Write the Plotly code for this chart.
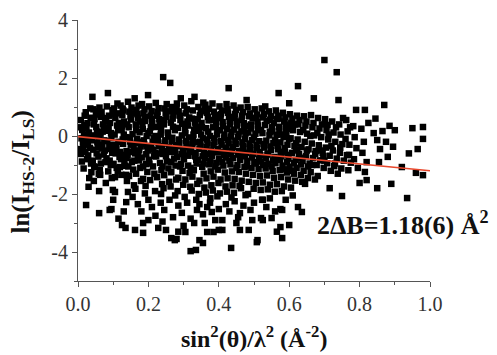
import plotly.graph_objects as go

# ---- data: (sin^2(theta)/lambda^2, ln(I_HS-2/I_LS)) ----
dense_left = [
    (0.008,0.55),(0.012,0.21),(0.010,-0.08),(0.015,-0.35),(0.009,-0.62),(0.018,0.38),(0.014,-0.21),(0.011,-0.88),(0.017,0.05),(0.013,-0.49),(0.019,0.70),(0.016,-1.12),
    (0.022,0.82),(0.027,0.44),(0.031,0.12),(0.025,-0.18),(0.034,-0.41),(0.029,-0.67),(0.037,-0.95),(0.024,0.28),(0.033,-0.03),(0.038,-1.25),(0.021,-0.55),(0.036,0.63),(0.028,-0.30),(0.032,-1.45),
    (0.041,1.35),(0.044,0.92),(0.047,0.58),(0.052,0.31),(0.049,0.02),(0.055,-0.22),(0.043,-0.47),(0.058,-0.71),(0.046,-1.05),(0.051,0.74),(0.057,-0.38),(0.054,0.15),(0.042,-0.85),(0.059,-1.30),(0.048,-1.07),
    (0.061,0.98),(0.066,0.66),(0.071,0.40),(0.064,0.08),(0.075,-0.15),(0.068,-0.43),(0.073,-0.64),(0.078,-0.90),(0.062,-1.18),(0.077,0.51),(0.069,-0.29),(0.074,0.25),(0.063,-1.34),(0.079,-1.62),(0.067,0.83),
    (0.085,1.48),(0.082,1.02),(0.088,0.70),(0.091,0.45),(0.084,0.18),(0.095,-0.06),(0.089,-0.33),(0.097,-0.58),(0.081,-0.77),(0.093,-1.00),(0.086,-1.22),(0.098,0.89),(0.092,-0.45),(0.087,0.30),(0.096,-1.45),(0.099,-1.86),(0.083,-0.18),
    (0.102,0.95),(0.106,0.62),(0.111,0.36),(0.104,0.05),(0.115,-0.20),(0.108,-0.47),(0.118,-0.72),(0.101,-0.96),(0.113,-1.20),(0.117,0.78),(0.109,-0.33),(0.114,0.20),(0.105,-1.42),(0.119,-1.07),(0.107,-0.60),(0.112,1.12),
    (0.121,1.05),(0.126,0.72),(0.131,0.50),(0.124,0.22),(0.135,-0.04),(0.128,-0.27),(0.138,-0.52),(0.122,-0.80),(0.133,-1.03),(0.137,-1.34),(0.129,0.88),(0.134,-0.65),(0.125,0.34),(0.139,-1.55),(0.127,-0.12),(0.132,-0.92),
    (0.142,1.18),(0.146,0.84),(0.151,0.57),(0.144,0.30),(0.155,0.06),(0.148,-0.19),(0.158,-0.42),(0.141,-0.68),(0.153,-0.90),(0.157,-1.16),(0.149,0.68),(0.154,-0.55),(0.145,-1.38),(0.159,-1.70),(0.147,-0.05),(0.152,0.98),
    (0.161,1.30),(0.166,0.90),(0.171,0.62),(0.164,0.40),(0.175,0.13),(0.168,-0.10),(0.178,-0.36),(0.162,-0.60),(0.173,-0.84),(0.177,-1.10),(0.169,0.75),(0.174,-0.50),(0.165,-1.30),(0.179,-1.55),(0.167,-0.24),(0.172,1.05),(0.163,-1.82),
    (0.182,1.10),(0.186,0.78),(0.191,0.52),(0.184,0.24),(0.195,0.00),(0.188,-0.28),(0.198,-0.50),(0.181,-0.74),(0.193,-0.97),(0.197,-1.24),(0.189,0.92),(0.194,-0.63),(0.185,-1.48),(0.199,1.41),(0.187,-0.15),(0.192,-1.72),(0.183,0.38),
]
dense_mid = [
    (0.202,1.02),(0.206,0.70),(0.211,0.45),(0.204,0.16),(0.215,-0.08),(0.208,-0.35),(0.218,-0.58),(0.201,-0.82),(0.213,-1.05),(0.217,-1.30),(0.209,0.86),(0.214,-0.47),(0.205,-1.52),(0.219,-1.90),(0.207,0.30),(0.212,-0.20),
    (0.221,1.14),(0.226,0.83),(0.231,0.58),(0.224,0.31),(0.235,0.05),(0.228,-0.22),(0.238,-0.45),(0.222,-0.70),(0.233,-0.93),(0.237,-1.18),(0.229,0.96),(0.234,-0.60),(0.225,-1.42),(0.239,-1.66),(0.227,-0.10),(0.232,0.42),(0.236,-2.00),
    (0.242,2.03),(0.246,0.95),(0.251,0.66),(0.244,0.40),(0.255,0.12),(0.248,-0.15),(0.258,-0.38),(0.241,-0.62),(0.253,-0.88),(0.257,-1.12),(0.249,0.80),(0.254,-0.52),(0.245,-1.35),(0.259,-1.58),(0.247,-0.26),(0.252,1.10),(0.243,-1.80),
    (0.262,1.83),(0.266,1.00),(0.271,0.72),(0.264,0.46),(0.275,0.20),(0.268,-0.06),(0.278,-0.30),(0.261,-0.55),(0.273,-0.78),(0.277,-1.02),(0.269,0.60),(0.274,-0.42),(0.265,-1.25),(0.279,-1.50),(0.267,-0.18),(0.272,0.86),(0.263,-1.74),(0.276,-2.05),
    (0.281,1.12),(0.286,0.85),(0.291,0.55),(0.284,0.28),(0.295,0.02),(0.288,-0.25),(0.298,-0.48),(0.282,-0.72),(0.293,-0.96),(0.297,-1.20),(0.289,0.70),(0.294,-0.62),(0.285,-1.44),(0.299,-1.68),(0.287,-0.12),(0.292,1.30),(0.283,-1.90),
    (0.302,1.05),(0.306,0.78),(0.311,0.50),(0.304,0.22),(0.315,-0.05),(0.308,-0.30),(0.318,-0.55),(0.301,-0.80),(0.313,-1.02),(0.317,-1.28),(0.309,0.92),(0.314,-0.68),(0.305,-1.50),(0.319,-1.75),(0.307,-0.17),(0.312,0.36),(0.303,-2.10),
    (0.322,1.20),(0.326,0.88),(0.331,1.35),(0.324,0.60),(0.335,0.32),(0.328,0.05),(0.338,-0.22),(0.321,-0.45),(0.333,-0.70),(0.337,-0.95),(0.329,-1.18),(0.334,-0.58),(0.325,-1.40),(0.339,-1.65),(0.327,-0.10),(0.332,0.46),(0.323,-1.88),(0.336,-2.20),
    (0.342,1.00),(0.346,0.72),(0.351,0.45),(0.344,0.18),(0.355,-0.08),(0.348,-0.33),(0.358,-0.58),(0.341,-0.82),(0.353,-1.06),(0.357,-1.30),(0.349,0.85),(0.354,-0.70),(0.345,-1.54),(0.359,-1.78),(0.347,-0.20),(0.352,0.30),(0.343,-2.00),(0.356,1.15),
    (0.362,1.08),(0.366,0.80),(0.371,0.54),(0.364,0.27),(0.375,0.00),(0.368,-0.26),(0.378,-0.50),(0.361,-0.75),(0.373,-0.98),(0.377,-1.22),(0.369,0.66),(0.374,-0.62),(0.365,-1.46),(0.379,-1.70),(0.367,-0.12),(0.372,0.94),(0.363,-1.95),(0.376,-2.15),
    (0.382,1.12),(0.386,0.84),(0.391,0.58),(0.384,0.30),(0.395,0.05),(0.388,-0.20),(0.398,-0.44),(0.381,-0.68),(0.393,-0.92),(0.397,-1.16),(0.389,0.72),(0.394,-0.56),(0.385,-1.40),(0.399,-1.62),(0.387,-0.08),(0.392,0.42),(0.383,-1.88),(0.396,-2.08),
]
dense_right = [
    (0.402,1.02),(0.406,0.75),(0.411,0.48),(0.404,0.20),(0.415,-0.06),(0.408,-0.30),(0.418,-0.54),(0.401,-0.78),(0.413,-1.02),(0.417,-1.26),(0.409,0.88),(0.414,-0.66),(0.405,-1.50),(0.419,-1.74),(0.407,-0.18),(0.412,0.34),(0.403,-1.98),
    (0.428,1.65),(0.422,1.10),(0.426,0.80),(0.431,0.52),(0.424,0.25),(0.435,-0.02),(0.428,-0.26),(0.438,-0.50),(0.421,-0.74),(0.433,-0.98),(0.437,-1.22),(0.429,0.66),(0.434,-0.62),(0.425,-1.46),(0.439,-1.70),(0.427,-0.14),(0.432,0.40),(0.423,-1.92),(0.436,-2.12),
    (0.442,1.05),(0.446,0.76),(0.451,0.50),(0.444,0.22),(0.455,-0.04),(0.448,-0.28),(0.458,-0.52),(0.441,-0.76),(0.453,-1.00),(0.457,-1.24),(0.449,0.90),(0.454,-0.64),(0.445,-1.48),(0.459,-1.72),(0.447,-0.16),(0.452,0.36),(0.443,-1.96),
    (0.462,0.98),(0.466,0.70),(0.471,0.44),(0.464,0.16),(0.475,-0.10),(0.468,-0.34),(0.478,-0.58),(0.461,-0.82),(0.473,-1.06),(0.477,-1.30),(0.469,0.82),(0.474,-0.70),(0.465,-1.54),(0.479,1.24),(0.467,-0.22),(0.472,0.30),(0.463,-1.80),(0.476,-2.04),
    (0.482,1.00),(0.486,0.68),(0.491,0.40),(0.484,0.12),(0.495,-0.14),(0.488,-0.38),(0.498,-0.62),(0.481,-0.86),(0.493,-1.10),(0.497,-1.34),(0.489,0.78),(0.494,-0.74),(0.485,-1.58),(0.499,-1.82),(0.487,-0.26),(0.492,0.26),(0.483,-2.00),
    (0.502,0.92),(0.506,0.62),(0.511,0.36),(0.504,0.08),(0.515,-0.18),(0.508,-0.42),(0.518,-0.66),(0.501,-0.90),(0.513,-1.14),(0.517,-1.38),(0.509,0.74),(0.514,-0.78),(0.505,-1.62),(0.519,-1.86),(0.507,-0.30),(0.512,0.22),
    (0.522,0.95),(0.526,0.64),(0.531,0.38),(0.524,0.10),(0.535,-0.16),(0.528,-0.40),(0.538,-0.64),(0.521,-0.88),(0.533,-1.12),(0.537,-1.36),(0.529,0.76),(0.534,-0.76),(0.525,-1.60),(0.539,-1.84),(0.527,-0.28),(0.532,1.02),(0.523,-2.20),
    (0.542,0.85),(0.546,0.56),(0.551,0.30),(0.544,0.02),(0.555,-0.24),(0.548,-0.48),(0.558,-0.72),(0.541,-0.96),(0.553,-1.20),(0.557,-1.44),(0.549,0.68),(0.554,-0.84),(0.545,-1.68),(0.559,-1.92),(0.547,-0.36),(0.552,0.16),
    (0.570,1.48),(0.562,0.88),(0.566,0.58),(0.571,0.32),(0.564,0.04),(0.575,-0.22),(0.568,-0.46),(0.578,-0.70),(0.561,-0.94),(0.573,-1.18),(0.577,-1.42),(0.569,0.70),(0.574,-0.82),(0.565,-1.66),(0.579,-1.90),(0.567,-0.34),(0.572,0.18),
    (0.582,0.80),(0.586,0.50),(0.591,0.24),(0.584,-0.04),(0.595,-0.30),(0.588,-0.54),(0.598,-0.78),(0.581,-1.02),(0.593,-1.26),(0.597,-1.50),(0.589,0.64),(0.594,-0.90),(0.585,-1.74),(0.600,1.13),(0.587,-0.42),(0.592,0.10),
    (0.602,0.75),(0.606,0.45),(0.611,0.20),(0.604,-0.08),(0.615,-0.34),(0.608,-0.58),(0.618,-0.82),(0.601,-1.06),(0.613,-1.30),(0.617,-1.54),(0.609,0.60),(0.614,-0.94),(0.605,-1.78),(0.619,-0.46),
]
dense_fill = [
    (0.004,0.30),(0.006,-0.45),(0.020,0.05),(0.026,-0.80),(0.035,0.95),(0.039,-0.15),(0.045,0.40),(0.053,-0.60),(0.056,0.85),(0.060,-0.05),
    (0.065,-0.95),(0.070,0.15),(0.076,-0.50),(0.080,0.62),(0.090,-0.85),(0.094,0.10),(0.100,-0.30),(0.103,0.75),(0.110,-1.10),(0.116,0.45),
    (0.120,-0.55),(0.127,0.95),(0.130,0.05),(0.136,-0.75),(0.140,0.40),(0.143,-1.05),(0.150,-0.30),(0.156,0.78),(0.160,-0.85),(0.165,0.20),
    (0.170,-0.65),(0.176,0.50),(0.180,-0.20),(0.185,-1.05),(0.190,0.65),(0.196,-0.35),(0.200,0.10),(0.203,-0.95),(0.210,0.58),(0.216,-0.70),
    (0.220,0.00),(0.225,0.70),(0.230,-0.35),(0.236,0.20),(0.240,-1.05),(0.245,0.55),(0.250,-0.70),(0.256,-0.02),(0.260,0.85),(0.265,-0.90),
    (0.270,0.32),(0.276,-0.55),(0.280,0.98),(0.285,-0.35),(0.290,-1.05),(0.296,0.42),(0.300,-0.62),(0.305,0.10),(0.310,-0.40),(0.316,0.64),
    (0.320,-1.10),(0.325,-0.28),(0.330,0.22),(0.336,-0.82),(0.340,0.58),(0.345,-0.45),(0.350,0.05),(0.356,-0.95),(0.360,0.92),(0.365,-0.38),
    (0.370,0.15),(0.376,-0.85),(0.380,0.55),(0.385,-0.32),(0.390,-1.05),(0.396,0.20),(0.400,-0.55),(0.405,0.62),(0.410,-0.90),(0.416,0.05),
    (0.420,-0.40),(0.425,0.92),(0.430,-0.85),(0.436,0.15),(0.440,-0.38),(0.445,0.62),(0.450,-1.10),(0.456,0.06),(0.460,-0.62),(0.465,0.55),
    (0.470,-0.45),(0.476,0.10),(0.480,-1.05),(0.485,0.35),(0.490,-0.50),(0.496,0.62),(0.500,-0.05),(0.505,-0.95),(0.510,0.50),(0.516,-0.55),
    (0.520,0.20),(0.525,-1.00),(0.530,-0.30),(0.536,0.52),(0.540,-0.60),(0.545,0.15),(0.550,-1.05),(0.556,0.45),(0.560,-0.15),(0.565,-0.75),
    (0.570,0.60),(0.576,-0.55),(0.580,0.05),(0.585,-1.15),(0.590,0.40),(0.596,-0.65),(0.600,-0.10),(0.605,0.25),(0.610,-1.20),(0.616,0.40),
    (0.620,-0.25),(0.630,-0.75),(0.640,0.20),(0.650,-0.50),(0.660,0.00),(0.665,-1.00),(0.680,0.10),(0.690,-0.50),(0.700,-0.85),(0.712,0.05),
    (0.720,-0.35),(0.730,-0.95),(0.745,-0.40),(0.760,-0.10),(0.770,-0.65),
]
sparse_high_q = [
    (0.625,1.72),(0.622,0.70),(0.626,0.40),(0.631,0.14),(0.624,-0.12),(0.635,-0.38),(0.628,-0.62),(0.638,-0.86),(0.621,-1.10),(0.633,-1.34),(0.637,-1.58),(0.629,0.55),(0.634,-0.98),(0.636,-2.62),(0.623,-0.50),
    (0.642,0.68),(0.646,0.36),(0.651,0.08),(0.644,-0.20),(0.655,-0.46),(0.648,-0.70),(0.658,-0.95),(0.641,-1.20),(0.653,-1.45),(0.649,0.50),(0.654,-1.05),(0.645,-1.65),
    (0.670,1.30),(0.662,0.72),(0.666,0.30),(0.671,0.02),(0.664,-0.26),(0.675,-0.52),(0.668,-0.76),(0.678,-1.00),(0.661,-1.25),(0.673,-1.50),(0.669,0.45),(0.674,-0.62),
    (0.682,0.62),(0.686,0.26),(0.691,-0.04),(0.684,-0.32),(0.695,-0.58),(0.688,-0.84),(0.698,-1.10),(0.681,-1.38),(0.693,0.40),(0.697,-0.70),
    (0.700,2.62),(0.702,0.58),(0.706,0.20),(0.711,-0.12),(0.704,-0.40),(0.715,-0.68),(0.708,-0.94),(0.718,-1.20),(0.715,-1.80),(0.709,0.38),
    (0.735,2.20),(0.722,0.50),(0.726,0.12),(0.731,-0.20),(0.724,-0.50),(0.735,-0.78),(0.728,-1.04),(0.738,-1.30),(0.733,0.30),
    (0.740,1.24),(0.742,0.40),(0.746,0.05),(0.751,-0.28),(0.744,-0.58),(0.755,-0.85),(0.748,-1.12),(0.750,-2.07),(0.753,0.62),
    (0.762,0.55),(0.766,0.16),(0.771,-0.30),(0.764,-0.66),(0.775,-0.92),(0.768,-1.18),(0.773,0.30),
    (0.790,0.90),(0.782,0.34),(0.786,-0.04),(0.791,-0.42),(0.784,-0.80),(0.795,-1.10),(0.800,-1.62),
    (0.815,0.90),(0.805,0.25),(0.812,-0.20),(0.808,-0.58),(0.820,-0.90),(0.815,-1.24),(0.820,-1.52),(0.825,0.45),
    (0.840,0.10),(0.850,-0.14),(0.855,-0.90),(0.865,0.17),(0.850,-1.80),(0.845,0.60),(0.858,-0.45),
    (0.870,1.07),(0.880,-0.72),(0.895,-0.37),(0.900,0.20),(0.890,-1.65),(0.875,-0.20),(0.885,0.35),
    (0.920,-1.07),(0.935,-2.14),(0.950,0.27),(0.980,0.31),(0.980,-0.10),(0.965,-0.45),(0.960,-1.27),(0.980,-1.35),(0.940,-0.60),
]
lower_tail = [
    (0.023,-2.38),(0.060,-2.66),(0.100,-2.20),(0.095,-2.52),(0.125,-3.07),(0.135,-3.17),(0.162,-3.24),(0.185,-3.34),(0.185,-3.00),
    (0.228,-3.17),(0.250,-3.24),(0.265,-3.52),(0.275,-3.59),(0.280,-3.55),(0.320,-3.97),(0.335,-3.93),(0.305,-3.31),(0.345,-3.59),
    (0.355,-3.69),(0.385,-3.31),(0.410,-3.24),(0.435,-3.86),(0.460,-3.24),(0.485,-3.24),(0.460,-2.66),(0.508,-3.66),(0.495,-2.90),
    (0.520,-2.83),(0.550,-2.83),(0.575,-3.14),(0.580,-3.52),(0.600,-3.07),(0.575,-2.52),(0.625,-2.45),(0.330,-3.00),(0.360,-3.00),
    (0.367,-3.31),(0.400,-3.24),(0.410,-2.90),(0.380,-2.62),(0.338,-2.55),(0.367,-2.45),(0.400,-2.52),(0.525,-2.20),(0.580,-2.55),
    (0.510,-3.59),(0.565,-3.30),(0.525,-2.90),(0.137,-2.28),(0.105,-1.93),(0.142,-1.93),(0.090,-2.55),(0.123,-1.34),
    (0.155,-2.10),(0.170,-2.35),(0.180,-2.60),(0.200,-2.20),(0.210,-2.45),(0.220,-2.75),(0.235,-2.30),(0.245,-2.55),(0.260,-2.20),
    (0.270,-2.80),(0.285,-2.40),(0.295,-2.65),(0.310,-2.30),(0.320,-2.85),(0.345,-2.35),(0.355,-2.70),(0.375,-2.30),(0.390,-2.90),
    (0.420,-2.35),(0.430,-2.60),(0.445,-2.25),(0.455,-2.80),(0.470,-2.40),(0.490,-2.55),(0.500,-2.30),(0.535,-2.45),(0.545,-2.15),
    (0.560,-2.60),(0.590,-2.20),(0.610,-2.05),(0.200,-2.90),(0.240,-2.95),(0.300,-3.10),(0.285,-3.30),(0.450,-3.00),(0.190,-1.98),
    (0.130,-2.60),(0.115,-2.85),(0.060,-1.90),(0.045,-1.55),(0.030,-1.75),
]

# linear fit: ln(I_HS-2/I_LS) = a - (2ΔB) * sin^2(θ)/λ^2
fit_intercept = -0.02
fit_slope = -1.18
fit_x = [0.0, 1.0]

x_tick_vals = [0.0, 0.2, 0.4, 0.6, 0.8, 1.0]
x_tick_text = ["0.0", "0.2", "0.4", "0.6", "0.8", "1.0"]
y_tick_vals = [-4, -2, 0, 2, 4]
y_tick_text = ["-4", "-2", "0", "2", "4"]

all_pts = dense_left + dense_mid + dense_right + dense_fill + sparse_high_q + lower_tail
px = [p[0] for p in all_pts]
py = [p[1] for p in all_pts]

FONT = "Liberation Serif, Times New Roman, serif"
AXC = "#555555"

fig = go.Figure()
fig.add_trace(go.Scatter(
    x=px, y=py, mode="markers",
    marker=dict(symbol="square", size=6.5, color="black", line=dict(width=0)),
    showlegend=False, hoverinfo="skip",
))
fig.add_trace(go.Scatter(
    x=fit_x, y=[fit_intercept + fit_slope * v for v in fit_x], mode="lines",
    line=dict(color="#e8472c", width=1.6), showlegend=False, hoverinfo="skip",
))

fig.update_layout(
    width=497, height=355,
    margin=dict(l=78, r=67, t=20, b=74),
    paper_bgcolor="white", plot_bgcolor="white",
    font=dict(family=FONT, color="#222222"),
    xaxis=dict(
        range=[0, 1.0], showgrid=False, zeroline=False,
        showline=True, linecolor=AXC, linewidth=1,
        ticks="outside", ticklen=5, tickcolor=AXC, tickwidth=1,
        tickvals=x_tick_vals, ticktext=x_tick_text,
        tickfont=dict(family=FONT, size=20, color="#333333"),
        minor=dict(dtick=0.1, ticks="outside", ticklen=3, tickcolor=AXC, tickwidth=1),
        automargin=False,
    ),
    yaxis=dict(
        range=[-5, 4], showgrid=False, zeroline=False,
        showline=True, linecolor=AXC, linewidth=1,
        ticks="outside", ticklen=5, tickcolor=AXC, tickwidth=1,
        tickvals=y_tick_vals, ticktext=y_tick_text,
        tickfont=dict(family=FONT, size=20, color="#333333"),
        minor=dict(dtick=1, ticks="outside", ticklen=3, tickcolor=AXC, tickwidth=1),
        automargin=False,
    ),
    annotations=[
        dict(x=0.673, y=-3.0, xref="x", yref="y", xanchor="left", yanchor="middle",
             text="<b>2ΔB=1.18(6) Å<sup>2</sup></b>", showarrow=False,
             font=dict(family=FONT, size=26, color="#111111")),
        dict(x=0.5, y=0, xref="paper", yref="paper", xanchor="center", yanchor="middle",
             yshift=-56, text="<b>sin<sup>2</sup>(θ)/λ<sup>2</sup> (Å<sup>-2</sup>)</b>",
             showarrow=False, font=dict(family=FONT, size=24, color="#111111")),
        dict(x=0, y=0.5, xref="paper", yref="paper", xanchor="center", yanchor="middle",
             xshift=-56, yshift=-22, textangle=-90,
             text="<b>ln(I<sub>HS-2</sub>/I<sub>LS</sub>)</b>",
             showarrow=False, font=dict(family=FONT, size=25, color="#111111")),
    ],
)

fig.write_html("out.html")
